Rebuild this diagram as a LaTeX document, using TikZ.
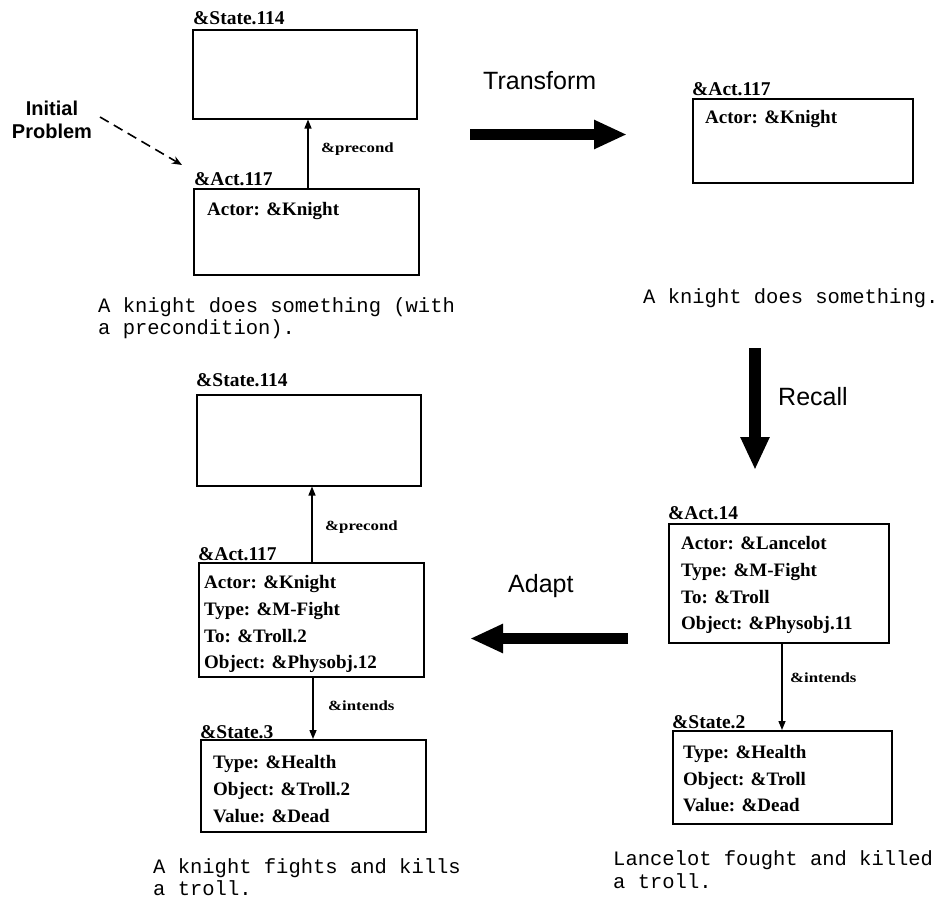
\documentclass[tikz,border=0pt]{standalone}
\usepackage{fontspec}
\setmainfont{Liberation Serif}
\setsansfont{Liberation Sans}
\setmonofont{Liberation Mono}
\usetikzlibrary{arrows.meta}
\begin{document}
\begin{tikzpicture}[x=1pt,y=-1pt,
  frame/.style={draw, line width=1.5pt, anchor=north west, inner sep=0pt},
  tag/.style={anchor=base west, inner sep=0pt, font=\fontsize{19.5}{20}\selectfont\bfseries},
  slot/.style={anchor=base west, inner sep=0pt, font=\fontsize{19}{20}\selectfont\bfseries},
  rel/.style={anchor=base west, inner sep=0pt, font=\fontsize{14}{14}\selectfont\bfseries},
  gloss/.style={anchor=base west, inner sep=0pt, font=\fontsize{20.5}{22}\selectfont\ttfamily},
  opname/.style={anchor=base west, inner sep=0pt, font=\fontsize{25}{26}\selectfont\sffamily},
  startname/.style={anchor=base, inner sep=0pt, font=\fontsize{20}{20}\selectfont\sffamily\bfseries},
  link/.style={-{Triangle[length=9pt,width=7pt]}, line width=1.4pt},
  bigarrow/.style={line width=11pt, -{Triangle[length=33pt,width=27pt]}},
]
\useasboundingbox (0,0) rectangle (943,905);

% ---------- initial problem (top left) ----------
\node[frame, minimum width=224pt, minimum height=89pt] (s114a) at (192,29) {};
\node[tag] (s114aT) at (193,24) {\&State.114};
\node[frame, minimum width=225pt, minimum height=86pt] (a117a) at (193,188) {};
\node[tag] (a117aT) at (194,185) {\&Act.117};
\node[slot] (a117aL1) at (207,215) {Actor: \&Knight};
\draw[link] (a117a.north -| 308,0) -- (s114a.south -| 308,0);
\node[rel] (pc1) at (321,152) {\scalebox{1.2}[1]{\&precond}};

\node[startname] (ip1) at (52,115) {Initial};
\node[startname] (ip2) at (52,138) {Problem};
\coordinate (ipA) at (100,117);
\coordinate (ipB) at (182,165);
\draw[line width=1.6pt, dash pattern=on 10pt off 6pt, -{Stealth[length=10pt,width=8pt]}] (ipA) -- (ipB);

\node[gloss] (g1a) at (98,312) {A knight does something (with};
\node[gloss] (g1b) at (98,334) {a precondition).};

% ---------- transformed problem (top right) ----------
\coordinate (tf0) at (470,134.5);
\coordinate (tf1) at (627,134.5);
\draw[bigarrow] (tf0) -- (tf1);
\node[opname] (tfN) at (483,89) {Transform};

\node[frame, minimum width=220pt, minimum height=84pt] (a117b) at (692,98) {};
\node[tag] (a117bT) at (692,95) {\&Act.117};
\node[slot] (a117bL1) at (705,123) {Actor: \&Knight};
\node[gloss] (g2) at (643,303) {A knight does something.};

% ---------- recall ----------
\coordinate (rc0) at (755,348);
\coordinate (rc1) at (755,470);
\draw[bigarrow, line width=12pt] (rc0) -- (rc1);
\node[opname] (rcN) at (778,405) {Recall};

% ---------- recalled case (bottom right) ----------
\node[frame, minimum width=220pt, minimum height=119pt] (a14) at (668,523) {};
\node[tag] (a14T) at (668,519) {\&Act.14};
\node[slot] (a14L1) at (681,549) {Actor: \&Lancelot};
\node[slot] (a14L2) at (681,576) {Type: \&M-Fight};
\node[slot] (a14L3) at (681,603) {To: \&Troll};
\node[slot] (a14L4) at (681,629) {Object: \&Physobj.11};

\node[frame, minimum width=219pt, minimum height=93pt] (s2) at (672,730) {};
\node[tag] (s2T) at (672,728) {\&State.2};
\node[slot] (s2L1) at (683,758) {Type: \&Health};
\node[slot] (s2L2) at (683,785) {Object: \&Troll};
\node[slot] (s2L3) at (683,811) {Value: \&Dead};
\draw[link] (a14.south -| 782,0) -- (s2.north -| 782,0);
\node[rel] (in2) at (790,682) {\scalebox{1.2}[1]{\&intends}};

\node[gloss] (g4a) at (613,865) {Lancelot fought and killed};
\node[gloss] (g4b) at (613,888) {a troll.};

% ---------- adapt ----------
\coordinate (ad0) at (628,638.5);
\coordinate (ad1) at (470,638.5);
\draw[bigarrow] (ad0) -- (ad1);
\node[opname] (adN) at (508,592) {Adapt};

% ---------- adapted solution (bottom left) ----------
\node[frame, minimum width=224pt, minimum height=91pt] (s114b) at (196,394) {};
\node[tag] (s114bT) at (196,386) {\&State.114};

\node[frame, minimum width=225pt, minimum height=114pt] (a117c) at (198,562) {};
\node[tag] (a117cT) at (198,560) {\&Act.117};
\node[slot] (a117cL1) at (204,588) {Actor: \&Knight};
\node[slot] (a117cL2) at (204,615) {Type: \&M-Fight};
\node[slot] (a117cL3) at (204,642) {To: \&Troll.2};
\node[slot] (a117cL4) at (204,668) {Object: \&Physobj.12};
\draw[link] (a117c.north -| 312,0) -- (s114b.south -| 312,0);
\node[rel] (pc2) at (325,530) {\scalebox{1.2}[1]{\&precond}};

\node[frame, minimum width=225pt, minimum height=92pt] (s3) at (200,739) {};
\node[tag] (s3T) at (200,738) {\&State.3};
\node[slot] (s3L1) at (213,768) {Type: \&Health};
\node[slot] (s3L2) at (213,795) {Object: \&Troll.2};
\node[slot] (s3L3) at (213,822) {Value: \&Dead};
\draw[link] (a117c.south -| 313,0) -- (s3.north -| 313,0);
\node[rel] (in1) at (328,710) {\scalebox{1.2}[1]{\&intends}};

\node[gloss] (g3a) at (153,873) {A knight fights and kills};
\node[gloss] (g3b) at (153,895) {a troll.};
\end{tikzpicture}
\end{document}
